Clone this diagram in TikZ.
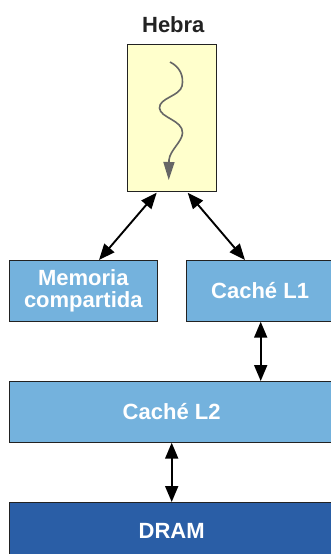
\documentclass[tikz,border=0pt]{standalone}
\usepackage{fontspec}
\setmainfont{Liberation Sans}
\usetikzlibrary{arrows.meta}
\definecolor{boxblue}{HTML}{74B2DD}
\definecolor{dramblue}{HTML}{2A5EA6}
\definecolor{hebrafill}{HTML}{FFFFCC}
\definecolor{edgegray}{HTML}{222222}
\definecolor{wavegray}{HTML}{666666}
\tikzset{
  membox/.style={draw=edgegray, line width=0.9pt, fill=boxblue, text=white,
    font=\bfseries\fontsize{22}{22.7}\selectfont, inner sep=0pt, align=center,
    minimum height=61.7pt},
  biarrow/.style={line width=1.9pt, {Triangle[length=16pt,width=13pt]}-{Triangle[length=16pt,width=13pt]}},
}
\begin{document}
\begin{tikzpicture}[x=1pt,y=-1pt]
\clip (0,0) rectangle (331,554);
\fill[white] (0,0) rectangle (331,554);
\node[draw=edgegray, line width=0.9pt, fill=hebrafill, minimum width=88.3pt, minimum height=147.4pt, inner sep=0pt] (hebra) at (171.85,118) {};
\node[font=\bfseries\fontsize{22}{24}\selectfont, text=edgegray, inner sep=0pt] (title) at (173.3,25) {Hebra};
\draw[wavegray, line width=1.6pt, -{Triangle[length=18pt,width=11pt]}]
  (170,62) .. controls (180,67) and (184,76) .. (182,86)
  .. controls (180,96) and (159,98) .. (159.5,108)
  .. controls (160,118) and (183,120) .. (182.5,133)
  .. controls (182,142) and (170,150) .. (169,160) -- (168.7,180);
\node[membox, minimum width=148pt] (mem) at (83.3,290.85) {Memoria\\compartida};
\node[membox, minimum width=146.8pt] (l1) at (260.1,290.85) {Caché L1};
\node[membox, minimum width=324.7pt] (l2) at (171.65,411.85) {Caché L2};
\node[membox, fill=dramblue, minimum width=324.7pt] (dram) at (171.65,532.85) {};
\node[text=white, font=\bfseries\fontsize{22}{22.7}\selectfont, inner sep=0pt] (dramtext) at (171.65,530.7) {DRAM};
\coordinate (hl) at (156.7,192.7);
\coordinate (hr) at (187.7,192.7);
\coordinate (mt) at (99,260);
\coordinate (l1t) at (245,260);
\coordinate (l1b) at (260.7,321.7);
\coordinate (l2t) at (260.7,381);
\coordinate (l2b) at (171.7,442.7);
\coordinate (dt) at (171.7,502);
\draw[biarrow] (hl) -- (mt);
\draw[biarrow] (hr) -- (l1t);
\draw[biarrow] (l1b) -- (l2t);
\draw[biarrow] (l2b) -- (dt);
\end{tikzpicture}
\end{document}
